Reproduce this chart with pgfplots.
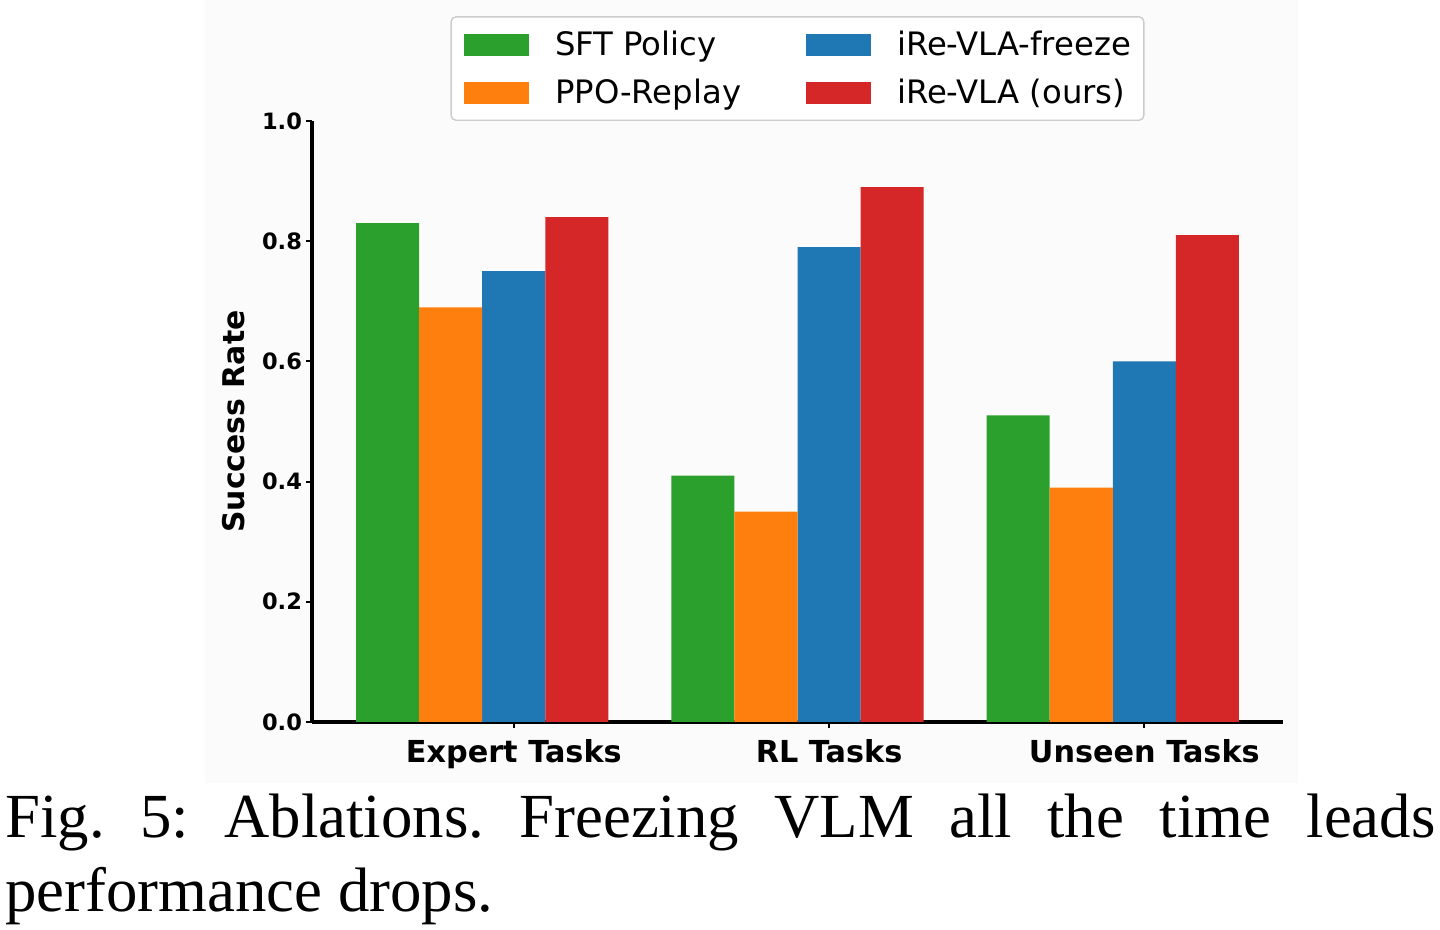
\documentclass[border=0pt]{standalone}
\usepackage{pgfplots}
\pgfplotsset{compat=1.18}
\usepackage{fontspec}
\setmainfont{Liberation Serif}
\newfontfamily\djv{DejaVu Sans}
\definecolor{cgreen}{HTML}{2CA02C}
\definecolor{corange}{HTML}{FF7F0E}
\definecolor{cblue}{HTML}{1F77B4}
\definecolor{cred}{HTML}{D62728}
\begin{document}
\frenchspacing
\begin{tikzpicture}
\path[use as bounding box] (0,0) rectangle (720bp,465bp);
\fill[black!1.5] (102.5bp,73.5bp) rectangle (649bp,465bp);
\begin{axis}[
  at={(156bp,104bp)}, anchor=south west,
  scale only axis, width=485.5bp, height=300.5bp,
  ybar, bar width=0.2,
  xmin=-0.64, xmax=2.44, ymin=0, ymax=1,
  axis x line*=bottom, axis y line*=left,
  axis line style={line width=2bp, black},
  xtick={0,1,2},
  xticklabels={Expert Tasks, RL Tasks, Unseen Tasks},
  ytick={0,0.2,0.4,0.6,0.8,1},
  /pgf/number format/assume math mode=true,
  yticklabel style={font=\djv\bfseries\fontsize{11.3}{13}\selectfont, xshift=1.5bp, /pgf/number format/fixed, /pgf/number format/fixed zerofill, /pgf/number format/precision=1},
  xticklabel style={font=\djv\bfseries\fontsize{15.2}{18}\selectfont, yshift=-2bp},
  tick align=outside, major tick length=3bp,
  tick style={black, line width=1bp},
  ylabel={Success Rate},
  ylabel style={font=\djv\bfseries\fontsize{15}{18}\selectfont, at={(axis description cs:-0.0803,0.5)}, anchor=center},
  legend columns=2,
  legend cell align=left,
  legend image code/.code={\fill[#1,draw=none,sharp corners] (0bp,-5.5bp) rectangle (32.5bp,5.5bp); \path[draw=none,fill=none] (-2bp,0) -- (43.5bp,0);},
  legend style={at={(0.5,1)}, anchor=south, font=\djv\fontsize{16.2}{19}\selectfont,
    draw=black!20, line width=0.7bp, rounded corners=2.5bp, fill=white,
    inner xsep=4.5bp, inner ysep=5bp, row sep=6.25bp,
    /tikz/every even column/.append style={column sep=28.5bp}},
]
\addplot[fill=cgreen, draw=none, bar shift=-0.4] coordinates {(0,0.83) (1,0.41) (2,0.51)};
\addlegendentry{SFT Policy}
\addplot[fill=cblue, draw=none, bar shift=0] coordinates {(0,0.75) (1,0.79) (2,0.60)};
\addlegendentry{iRe-VLA-freeze}
\addplot[fill=corange, draw=none, bar shift=-0.2] coordinates {(0,0.69) (1,0.35) (2,0.39)};
\addlegendentry{PPO-Replay}
\addplot[fill=cred, draw=none, bar shift=0.2] coordinates {(0,0.84) (1,0.89) (2,0.81)};
\addlegendentry{iRe-VLA (ours)}
\end{axis}
\node[anchor=north west, inner sep=0pt, text width=715bp, align=justify,
  font=\fontsize{31.5}{37}\selectfont] at (2.5bp,68bp)
  {Fig. 5: Ablations. Freezing VLM all the time leads\linebreak performance drops.};
\end{tikzpicture}
\end{document}
